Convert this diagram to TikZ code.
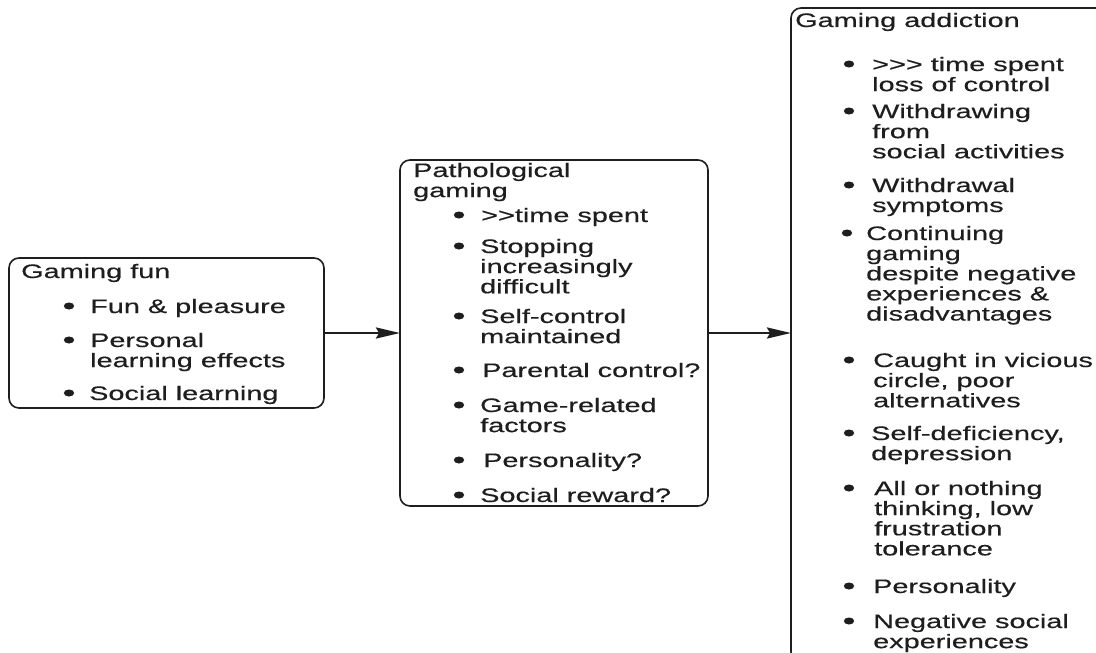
\documentclass[tikz,border=0pt]{standalone}
\usepackage{fontspec}
\setmainfont{Liberation Sans}[FakeStretch=1.48,FakeBold=0.4]
\usetikzlibrary{arrows.meta}
\definecolor{ink}{HTML}{1E1E1E}
\newcommand\lines[1]{\begin{tabular}[t]{@{}l@{}}#1\end{tabular}}
\newcommand\itm[5]{%
  \fill[ink] (#2,#4-7) ellipse [x radius=5.2, y radius=3.5];
  \node[txt] (#1) at (#3,#4) {\lines{#5}};
}
\begin{document}
\begin{tikzpicture}[x=1pt,y=-1pt,
  txt/.style={anchor=base west,inner sep=0pt,text=ink,
    font=\fontsize{19.5}{20}\selectfont},
  box/.style={draw=ink,line width=1.6pt,rounded corners=10pt},
  conn/.style={draw=ink,line width=2.4pt,-{Stealth[length=24pt,width=11pt,inset=3pt]}}]
\useasboundingbox (0,0) rectangle (1096,653);
\clip (0,0) rectangle (1096,653);
\fill[white] (0,0) rectangle (1096,653);
% boxes
\draw[box] (9,258) rectangle (324,408);
\draw[box] (400,160) rectangle (708,506);
\draw[box] (791,8) rectangle (1112,662);
\coordinate (funE) at (324,333);
\coordinate (patW) at (400,333);
\coordinate (patE) at (708,333);
\coordinate (addW) at (791,333);
\draw[conn] (funE) -- (patW);
\draw[conn] (patE) -- (addW);
% left box
\node[txt] (t1) at (21,278) {Gaming fun};
\itm{g1}{69}{90}{313}{Fun \& pleasure}
\itm{g2}{69}{90}{347}{Personal\\learning effects}
\itm{g3}{69}{89}{400}{Social learning}
% middle box
\node[txt] (t2) at (413,177) {\lines{Pathological\\gaming}};
\itm{p1}{459}{481}{222}{>{}>time spent}
\itm{p2}{459}{480}{253}{Stopping\\increasingly\\difficult}
\itm{p3}{459}{480}{323}{Self-control\\maintained}
\itm{p4}{459}{482}{377}{Parental control?}
\itm{p5}{459}{480}{412}{Game-related\\factors}
\itm{p6}{459}{483}{467}{Personality?}
\itm{p7}{459}{480}{502}{Social reward?}
% right box
\node[txt] (t3) at (795,27) {Gaming addiction};
\itm{a1}{849}{872}{71}{>{}>{}> time spent\\loss of control}
\itm{a2}{849}{872}{118}{Withdrawing\\from\\social activities}
\itm{a3}{849}{872}{192}{Withdrawal\\symptoms}
\itm{a4}{847}{866}{240}{Continuing\\gaming\\despite negative\\experiences \&\\disadvantages}
\itm{a5}{849}{873}{367}{Caught in vicious\\circle, poor\\alternatives}
\itm{a6}{849}{871}{440}{Self-deficiency,\\depression}
\itm{a7}{849}{874}{495}{All or nothing\\thinking, low\\frustration\\tolerance}
\itm{a8}{849}{873}{593}{Personality}
\itm{a9}{849}{873}{628}{Negative social\\experiences}
\end{tikzpicture}
\end{document}
